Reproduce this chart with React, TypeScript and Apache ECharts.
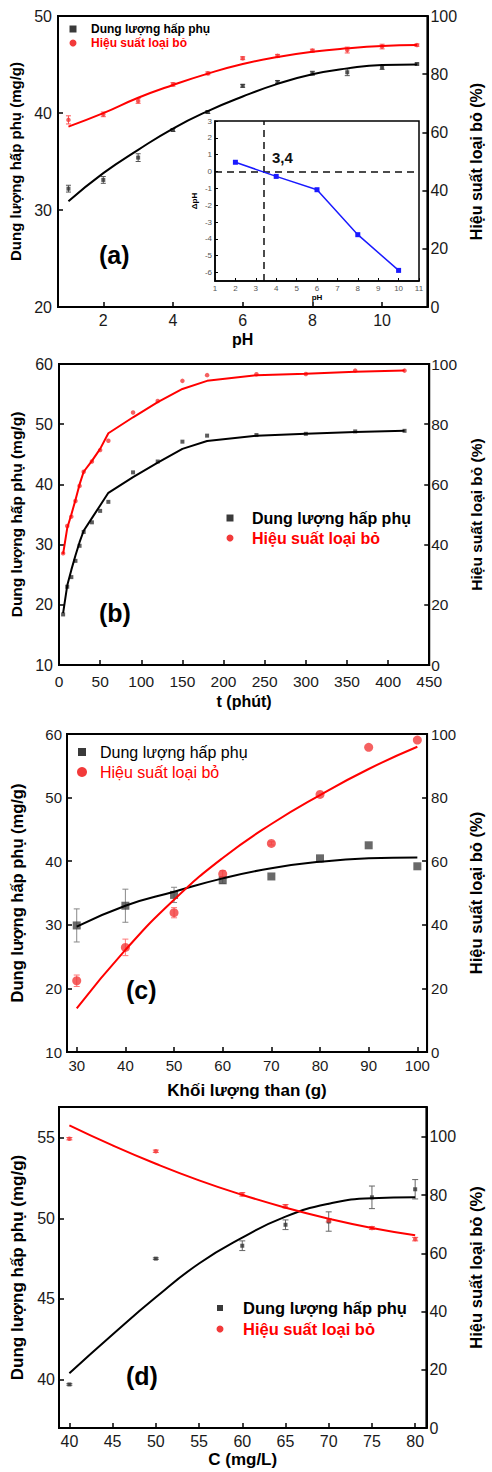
import React, { useEffect, useRef } from "react";
import * as echarts from "echarts";

// ---------- (a) effect of pH ----------
const pHValues = [1, 2, 3, 4, 5, 6, 7, 8, 9, 10, 11];
const capacityPH = [32.2, 33.1, 35.4, 38.25, 40.1, 42.8, 43.2, 44.1, 44.2, 44.7, 45.05];
const capacityPHErr = [0.35, 0.35, 0.4, 0.15, 0.15, 0.15, 0.15, 0.2, 0.35, 0.2, 0.1];
const removalPH = [64.3, 66.2, 70.8, 76.5, 80.3, 85.5, 86.3, 88.1, 88.3, 89.5, 90.0];
const removalPHErr = [1.4, 0.8, 0.8, 0.6, 0.5, 0.5, 0.5, 0.5, 1.0, 0.8, 0.4];
const capacityPHFit = [30.9, 33.8, 36.2, 38.4, 40.2, 41.7, 43.0, 44.0, 44.6, 44.95, 45.0];
const removalPHFit = [62.0, 66.6, 71.9, 76.3, 80.2, 83.5, 85.9, 87.7, 88.9, 89.7, 90.0];
const pHTicks = [2, 4, 6, 8, 10];

// ---------- inset: pHpzc ----------
const insetPH = [2, 4, 6, 8, 10];
const deltaPH = [0.55, -0.29, -1.08, -3.75, -5.87];
const pHpzc = 3.4;
const insetYTicks = [-6, -5, -4, -3, -2, -1, 0, 1, 2, 3];

// ---------- (b) contact time ----------
const timeValues = [5, 10, 15, 20, 25, 30, 40, 50, 60, 90, 120, 150, 180, 240, 300, 360, 420];
const capacityTime = [18.4, 23.0, 24.6, 27.3, 29.8, 32.1, 33.7, 35.6, 37.1, 42.0, 43.8, 47.1, 48.1, 48.2, 48.4, 48.8, 48.9];
const removalTime = [37.1, 46.2, 49.3, 54.5, 59.5, 64.2, 67.6, 71.4, 74.5, 83.9, 87.7, 94.4, 96.3, 96.6, 96.7, 97.8, 97.8];
const capacityTimeFit = [18.6, 23.2, 25.8, 28.2, 30.4, 32.3, 34.4, 36.5, 38.6, 41.2, 43.6, 45.9, 47.2, 48.1, 48.4, 48.7, 48.9];
const removalTimeFit = [36.9, 45.5, 50.0, 54.8, 60.0, 64.2, 67.8, 71.8, 77.0, 82.3, 87.3, 91.7, 94.4, 96.3, 96.8, 97.4, 97.8];

// ---------- (c) carbon mass ----------
const massValues = [30, 40, 50, 60, 70, 80, 90, 100];
const capacityMass = [29.9, 33.0, 34.7, 37.0, 37.6, 40.45, 42.5, 39.2];
const capacityMassErr = [2.6, 2.6, 1.2, 0.5, 0, 0, 0, 0];
const removalMass = [22.4, 32.9, 43.8, 56.0, 65.6, 81.0, 95.8, 98.1];
const removalMassErr = [1.8, 2.6, 1.6, 1.0, 0.5, 0, 0, 0];
const capacityMassFit = [29.7, 33.0, 35.2, 37.3, 38.9, 39.9, 40.45, 40.6];
const removalMassFit = [13.7, 32.1, 47.9, 61.0, 71.7, 80.8, 89.0, 96.0];
const massTicks = [30, 40, 50, 60, 70, 80, 90, 100];

// ---------- (d) initial concentration ----------
const concValues = [40, 50, 60, 65, 70, 75, 80];
const capacityConc = [39.7, 47.5, 48.3, 49.6, 49.8, 51.3, 51.8];
const capacityConcErr = [0.05, 0.05, 0.3, 0.3, 0.6, 0.7, 0.6];
const removalConc = [99.4, 95.1, 80.3, 76.2, 71.4, 68.7, 64.9];
const removalConcErr = [0.4, 0.4, 0.6, 0.6, 0.6, 0.5, 0.6];
const concFitValues = [40, 45, 50, 55, 60, 65, 70, 75, 80];
const capacityConcFit = [40.4, 42.8, 45.1, 47.2, 48.8, 50.1, 50.9, 51.25, 51.3];
const removalConcFit = [104.0, 97.1, 90.8, 85.1, 80.1, 75.7, 71.9, 68.7, 66.2];
const concTicks = [40, 45, 50, 55, 60, 65, 70, 75, 80];
const concLeftTicks = [40, 45, 50, 55];
const percentTicks = [0, 20, 40, 60, 80, 100];

const NAME_Q = "Dung lượng hấp phụ";
const NAME_H = "Hiệu suất loại bỏ";
const Y_LEFT = "Dung lượng hấp phụ (mg/g)";
const Y_RIGHT = "Hiệu suất loại bỏ (%)";

const FONT = "'Liberation Sans', Arial, Helvetica, sans-serif";
const BLACK_PT = "#333333";
const RED_PT = "#f23a3a";

const pairs = (xs: number[], ys: number[]) => xs.map((x, i) => [x, ys[i]]);
const triples = (xs: number[], ys: number[], es: number[]) => xs.map((x, i) => [x, ys[i], es[i]]);

const axisLine = { show: true, onZero: false, lineStyle: { color: "#000", width: 2 } };
const tick = (len = 5, extra: any = {}) => ({ show: true, inside: true, length: len, lineStyle: { color: "#000", width: 1.5 }, ...extra });
const lbl = (size: number, margin: number, extra: any = {}) => ({ fontSize: size, fontFamily: FONT, color: "#1a1a1a", margin, ...extra });
const nameStyle = (size: number) => ({ fontSize: size, fontFamily: FONT, fontWeight: "bold", color: "#000" });
const noSplit = { show: false };

function errorBars(xIdx: number, yIdx: number, data: number[][], color: string, cap: number) {
  return {
    type: "custom",
    xAxisIndex: xIdx,
    yAxisIndex: yIdx,
    data,
    encode: { x: 0, y: 1 },
    silent: true,
    z: 1,
    renderItem: (_p: any, api: any) => {
      const x = api.value(0);
      const y = api.value(1);
      const e = api.value(2);
      if (!e) return null;
      const hi = api.coord([x, y + e]);
      const lo = api.coord([x, y - e]);
      const style = { stroke: color, lineWidth: 1 };
      return {
        type: "group",
        children: [
          { type: "line", shape: { x1: hi[0], y1: hi[1], x2: lo[0], y2: lo[1] }, style },
          { type: "line", shape: { x1: hi[0] - cap, y1: hi[1], x2: hi[0] + cap, y2: hi[1] }, style },
          { type: "line", shape: { x1: lo[0] - cap, y1: lo[1], x2: lo[0] + cap, y2: lo[1] }, style },
        ],
      };
    },
  };
}

function scatter(xIdx: number, yIdx: number, name: string, data: number[][], symbol: string, size: number, color: string) {
  return { type: "scatter", name, xAxisIndex: xIdx, yAxisIndex: yIdx, data, symbol, symbolSize: size, itemStyle: { color }, z: 3 };
}

function fitLine(xIdx: number, yIdx: number, data: number[][], color: string, smooth: any) {
  return {
    type: "line",
    name: "fit",
    xAxisIndex: xIdx,
    yAxisIndex: yIdx,
    data,
    smooth,
    showSymbol: false,
    symbol: "none",
    lineStyle: { color, width: 2 },
    z: 4,
  };
}

function legendGraphic(x: number, y1: number, y2: number, textX: number, size: number, bold: boolean, sq: number, r: number) {
  const weight = bold ? "bold " : "";
  return [
    { type: "rect", shape: { x: x - sq / 2, y: y1 - sq / 2, width: sq, height: sq }, style: { fill: "#3a3a3a" } },
    { type: "text", x: textX, y: y1, style: { text: NAME_Q, font: `${weight}${size}px ${FONT}`, fill: "#000", align: "left", verticalAlign: "middle" } },
    { type: "circle", shape: { cx: x, cy: y2, r }, style: { fill: RED_PT } },
    { type: "text", x: textX, y: y2, style: { text: NAME_H, font: `${weight}${size}px ${FONT}`, fill: "#ff0000", align: "left", verticalAlign: "middle" } },
  ];
}

function panelLabel(text: string, x: number, y: number) {
  return { type: "text", x, y, style: { text, font: `bold 25px ${FONT}`, fill: "#000", align: "left", verticalAlign: "middle" } };
}

const gridBox = { show: true, borderColor: "#000", borderWidth: 2, backgroundColor: "transparent" };

const option: any = {
  animation: false,
  backgroundColor: "#fff",
  grid: [
    { ...gridBox, left: 58, top: 16, width: 372, height: 291 },
    { show: true, borderColor: "#000", borderWidth: 1.5, backgroundColor: "#fff", left: 215, top: 121, width: 204, height: 160, z: 5 },
    { ...gridBox, left: 59, top: 364, width: 376, height: 301 },
    { ...gridBox, left: 66, top: 734, width: 373, height: 318 },
    { ...gridBox, left: 59, top: 1107, width: 386, height: 321 },
  ],
  xAxis: [
    {
      type: "value", gridIndex: 0, min: 0.7, max: 11.3,
      axisLine, axisTick: tick(5, { customValues: pHTicks }), axisLabel: lbl(16, 5, { customValues: pHTicks }), splitLine: noSplit,
      name: "pH", nameLocation: "middle", nameGap: 24, nameTextStyle: nameStyle(16),
    },
    {
      type: "value", gridIndex: 1, min: 1, max: 11, interval: 1,
      axisLine: { show: true, onZero: false, lineStyle: { color: "#000", width: 1.5 } },
      axisTick: { show: true, inside: true, length: 3, lineStyle: { color: "#000", width: 1 } },
      axisLabel: lbl(8, 3, { color: "#555" }), splitLine: noSplit,
      name: "pH", nameLocation: "middle", nameGap: 12, nameTextStyle: nameStyle(8), z: 6,
    },
    {
      type: "value", gridIndex: 2, min: 0, max: 450, interval: 50,
      axisLine, axisTick: tick(5), axisLabel: lbl(15.5, 8), splitLine: noSplit,
      name: "t (phút)", nameLocation: "middle", nameGap: 28, nameTextStyle: nameStyle(16),
    },
    {
      type: "value", gridIndex: 3, min: 28, max: 102,
      axisLine, axisTick: tick(5, { customValues: massTicks }), axisLabel: lbl(15, 6, { customValues: massTicks }), splitLine: noSplit,
      name: "Khối lượng than (g)", nameLocation: "middle", nameGap: 30, nameTextStyle: nameStyle(17),
    },
    {
      type: "value", gridIndex: 4, min: 38.8, max: 81.3,
      axisLine, axisTick: tick(5, { customValues: concTicks }), axisLabel: lbl(16, 5, { customValues: concTicks }), splitLine: noSplit,
      name: "C (mg/L)", nameLocation: "middle", nameGap: 23, nameTextStyle: nameStyle(17),
    },
  ],
  yAxis: [
    {
      type: "value", gridIndex: 0, position: "left", min: 20, max: 50, interval: 10,
      axisLine, axisTick: tick(5), axisLabel: lbl(16, 6), splitLine: noSplit,
      name: Y_LEFT, nameLocation: "middle", nameRotate: 90, nameGap: 31, nameTextStyle: nameStyle(15),
    },
    {
      type: "value", gridIndex: 0, position: "right", min: 0, max: 100, interval: 20,
      axisLine, axisTick: tick(5), axisLabel: lbl(16, 3), splitLine: noSplit,
      name: Y_RIGHT, nameLocation: "middle", nameRotate: 90, nameGap: 39, nameTextStyle: nameStyle(16),
    },
    {
      type: "value", gridIndex: 1, min: -6.5, max: 3,
      axisLine: { show: true, onZero: false, lineStyle: { color: "#000", width: 1.5 } },
      axisTick: { show: true, inside: true, length: 3, lineStyle: { color: "#000", width: 1 }, customValues: insetYTicks },
      axisLabel: lbl(8, 3, { color: "#555", customValues: insetYTicks }), splitLine: noSplit,
      name: "ΔpH", nameLocation: "middle", nameRotate: 90, nameGap: 17, nameTextStyle: nameStyle(8), z: 6,
    },
    {
      type: "value", gridIndex: 2, position: "left", min: 10, max: 60, interval: 10,
      axisLine, axisTick: tick(5), axisLabel: lbl(16, 6), splitLine: noSplit,
      name: Y_LEFT, nameLocation: "middle", nameRotate: 90, nameGap: 29, nameTextStyle: nameStyle(15.5),
    },
    {
      type: "value", gridIndex: 2, position: "right", min: 0, max: 100, interval: 20,
      axisLine, axisTick: tick(5), axisLabel: lbl(15.5, 2), splitLine: noSplit,
      name: Y_RIGHT, nameLocation: "middle", nameRotate: 90, nameGap: 37, nameTextStyle: nameStyle(15.5),
    },
    {
      type: "value", gridIndex: 3, position: "left", min: 10, max: 60, interval: 10,
      axisLine, axisTick: tick(5), axisLabel: lbl(15, 5), splitLine: noSplit,
      name: Y_LEFT, nameLocation: "middle", nameRotate: 90, nameGap: 42, nameTextStyle: nameStyle(16.5),
    },
    {
      type: "value", gridIndex: 3, position: "right", min: 0, max: 100, interval: 20,
      axisLine, axisTick: tick(5), axisLabel: lbl(15, 4), splitLine: noSplit,
      name: Y_RIGHT, nameLocation: "middle", nameRotate: 90, nameGap: 34, nameTextStyle: nameStyle(16.5),
    },
    {
      type: "value", gridIndex: 4, position: "left", min: 37, max: 56.9,
      axisLine, axisTick: tick(5, { customValues: concLeftTicks }), axisLabel: lbl(16, 4, { customValues: concLeftTicks }), splitLine: noSplit,
      name: Y_LEFT, nameLocation: "middle", nameRotate: 90, nameGap: 33, nameTextStyle: nameStyle(17),
    },
    {
      type: "value", gridIndex: 4, position: "right", min: 0, max: 110.3,
      axisLine, axisTick: tick(5, { customValues: percentTicks }), axisLabel: lbl(16, 3, { customValues: percentTicks }), splitLine: noSplit,
      name: Y_RIGHT, nameLocation: "middle", nameRotate: 90, nameGap: 31, nameTextStyle: nameStyle(16.5),
    },
  ],
  series: [
    // (a)
    errorBars(0, 0, triples(pHValues, capacityPH, capacityPHErr), "#555", 2.5),
    errorBars(0, 1, triples(pHValues, removalPH, removalPHErr), "#f55", 2.5),
    scatter(0, 0, NAME_Q, pairs(pHValues, capacityPH), "rect", 4, BLACK_PT),
    scatter(0, 1, NAME_H, pairs(pHValues, removalPH), "circle", 4.5, RED_PT),
    fitLine(0, 0, pairs(pHValues, capacityPHFit), "#000", 0.5),
    fitLine(0, 1, pairs(pHValues, removalPHFit), "#ff0000", 0.5),
    // inset
    {
      type: "line", name: "ΔpH", xAxisIndex: 1, yAxisIndex: 2, z: 8,
      data: pairs(insetPH, deltaPH), symbol: "rect", symbolSize: 5, showSymbol: true,
      lineStyle: { color: "#1a1aff", width: 1.5 }, itemStyle: { color: "#1a1aff" },
      markLine: {
        silent: true, symbol: "none", label: { show: false },
        lineStyle: { type: [7, 5], color: "#111", width: 1.5 },
        data: [{ xAxis: pHpzc }, { yAxis: 0 }],
      },
    },
    // (b)
    scatter(2, 3, NAME_Q, pairs(timeValues, capacityTime), "rect", 4, BLACK_PT),
    scatter(2, 4, NAME_H, pairs(timeValues, removalTime), "circle", 4.5, RED_PT),
    fitLine(2, 3, pairs(timeValues, capacityTimeFit), "#000", false),
    fitLine(2, 4, pairs(timeValues, removalTimeFit), "#ff0000", false),
    // (c)
    errorBars(3, 5, triples(massValues, capacityMass, capacityMassErr), "#888", 3),
    errorBars(3, 6, triples(massValues, removalMass, removalMassErr), "#f77", 3),
    scatter(3, 5, NAME_Q, pairs(massValues, capacityMass), "rect", 8, "#444"),
    scatter(3, 6, NAME_H, pairs(massValues, removalMass), "circle", 9, RED_PT),
    fitLine(3, 5, pairs(massValues, capacityMassFit), "#000", 0.5),
    fitLine(3, 6, pairs(massValues, removalMassFit), "#ff0000", 0.5),
    // (d)
    errorBars(4, 7, triples(concValues, capacityConc, capacityConcErr), "#666", 3),
    errorBars(4, 8, triples(concValues, removalConc, removalConcErr), "#f55", 3),
    scatter(4, 7, NAME_Q, pairs(concValues, capacityConc), "rect", 4, BLACK_PT),
    scatter(4, 8, NAME_H, pairs(concValues, removalConc), "circle", 4.5, RED_PT),
    fitLine(4, 7, pairs(concFitValues, capacityConcFit), "#000", 0.5),
    fitLine(4, 8, pairs(concFitValues, removalConcFit), "#ff0000", 0.5),
  ],
  graphic: [
    ...legendGraphic(73, 29, 43, 91, 12, true, 7, 3.5),
    ...legendGraphic(230, 518, 538, 252, 16, true, 7, 3.5),
    ...legendGraphic(82, 752, 772, 100, 16, false, 8, 5),
    ...legendGraphic(220, 1308, 1329, 243, 16.5, true, 6, 3.5),
    panelLabel("(a)", 99, 255),
    panelLabel("(b)", 99, 613),
    panelLabel("(c)", 126, 990),
    panelLabel("(d)", 126, 1376),
    {
      type: "text", x: 272, y: 157, z: 100,
      style: { text: String(pHpzc).replace(".", ","), font: `bold 15px ${FONT}`, fill: "#111", align: "left", verticalAlign: "middle" },
    },
  ],
};

export default function App() {
  const ref = useRef<HTMLDivElement>(null);
  useEffect(() => {
    const chart = echarts.init(ref.current as HTMLDivElement, null, { renderer: "svg" });
    chart.setOption(option);
    return () => chart.dispose();
  }, []);
  return (
    <div
      ref={ref}
      style={{ position: "absolute", left: 0, top: 0, width: 492, height: 1472, background: "#fff" }}
    />
  );
}
